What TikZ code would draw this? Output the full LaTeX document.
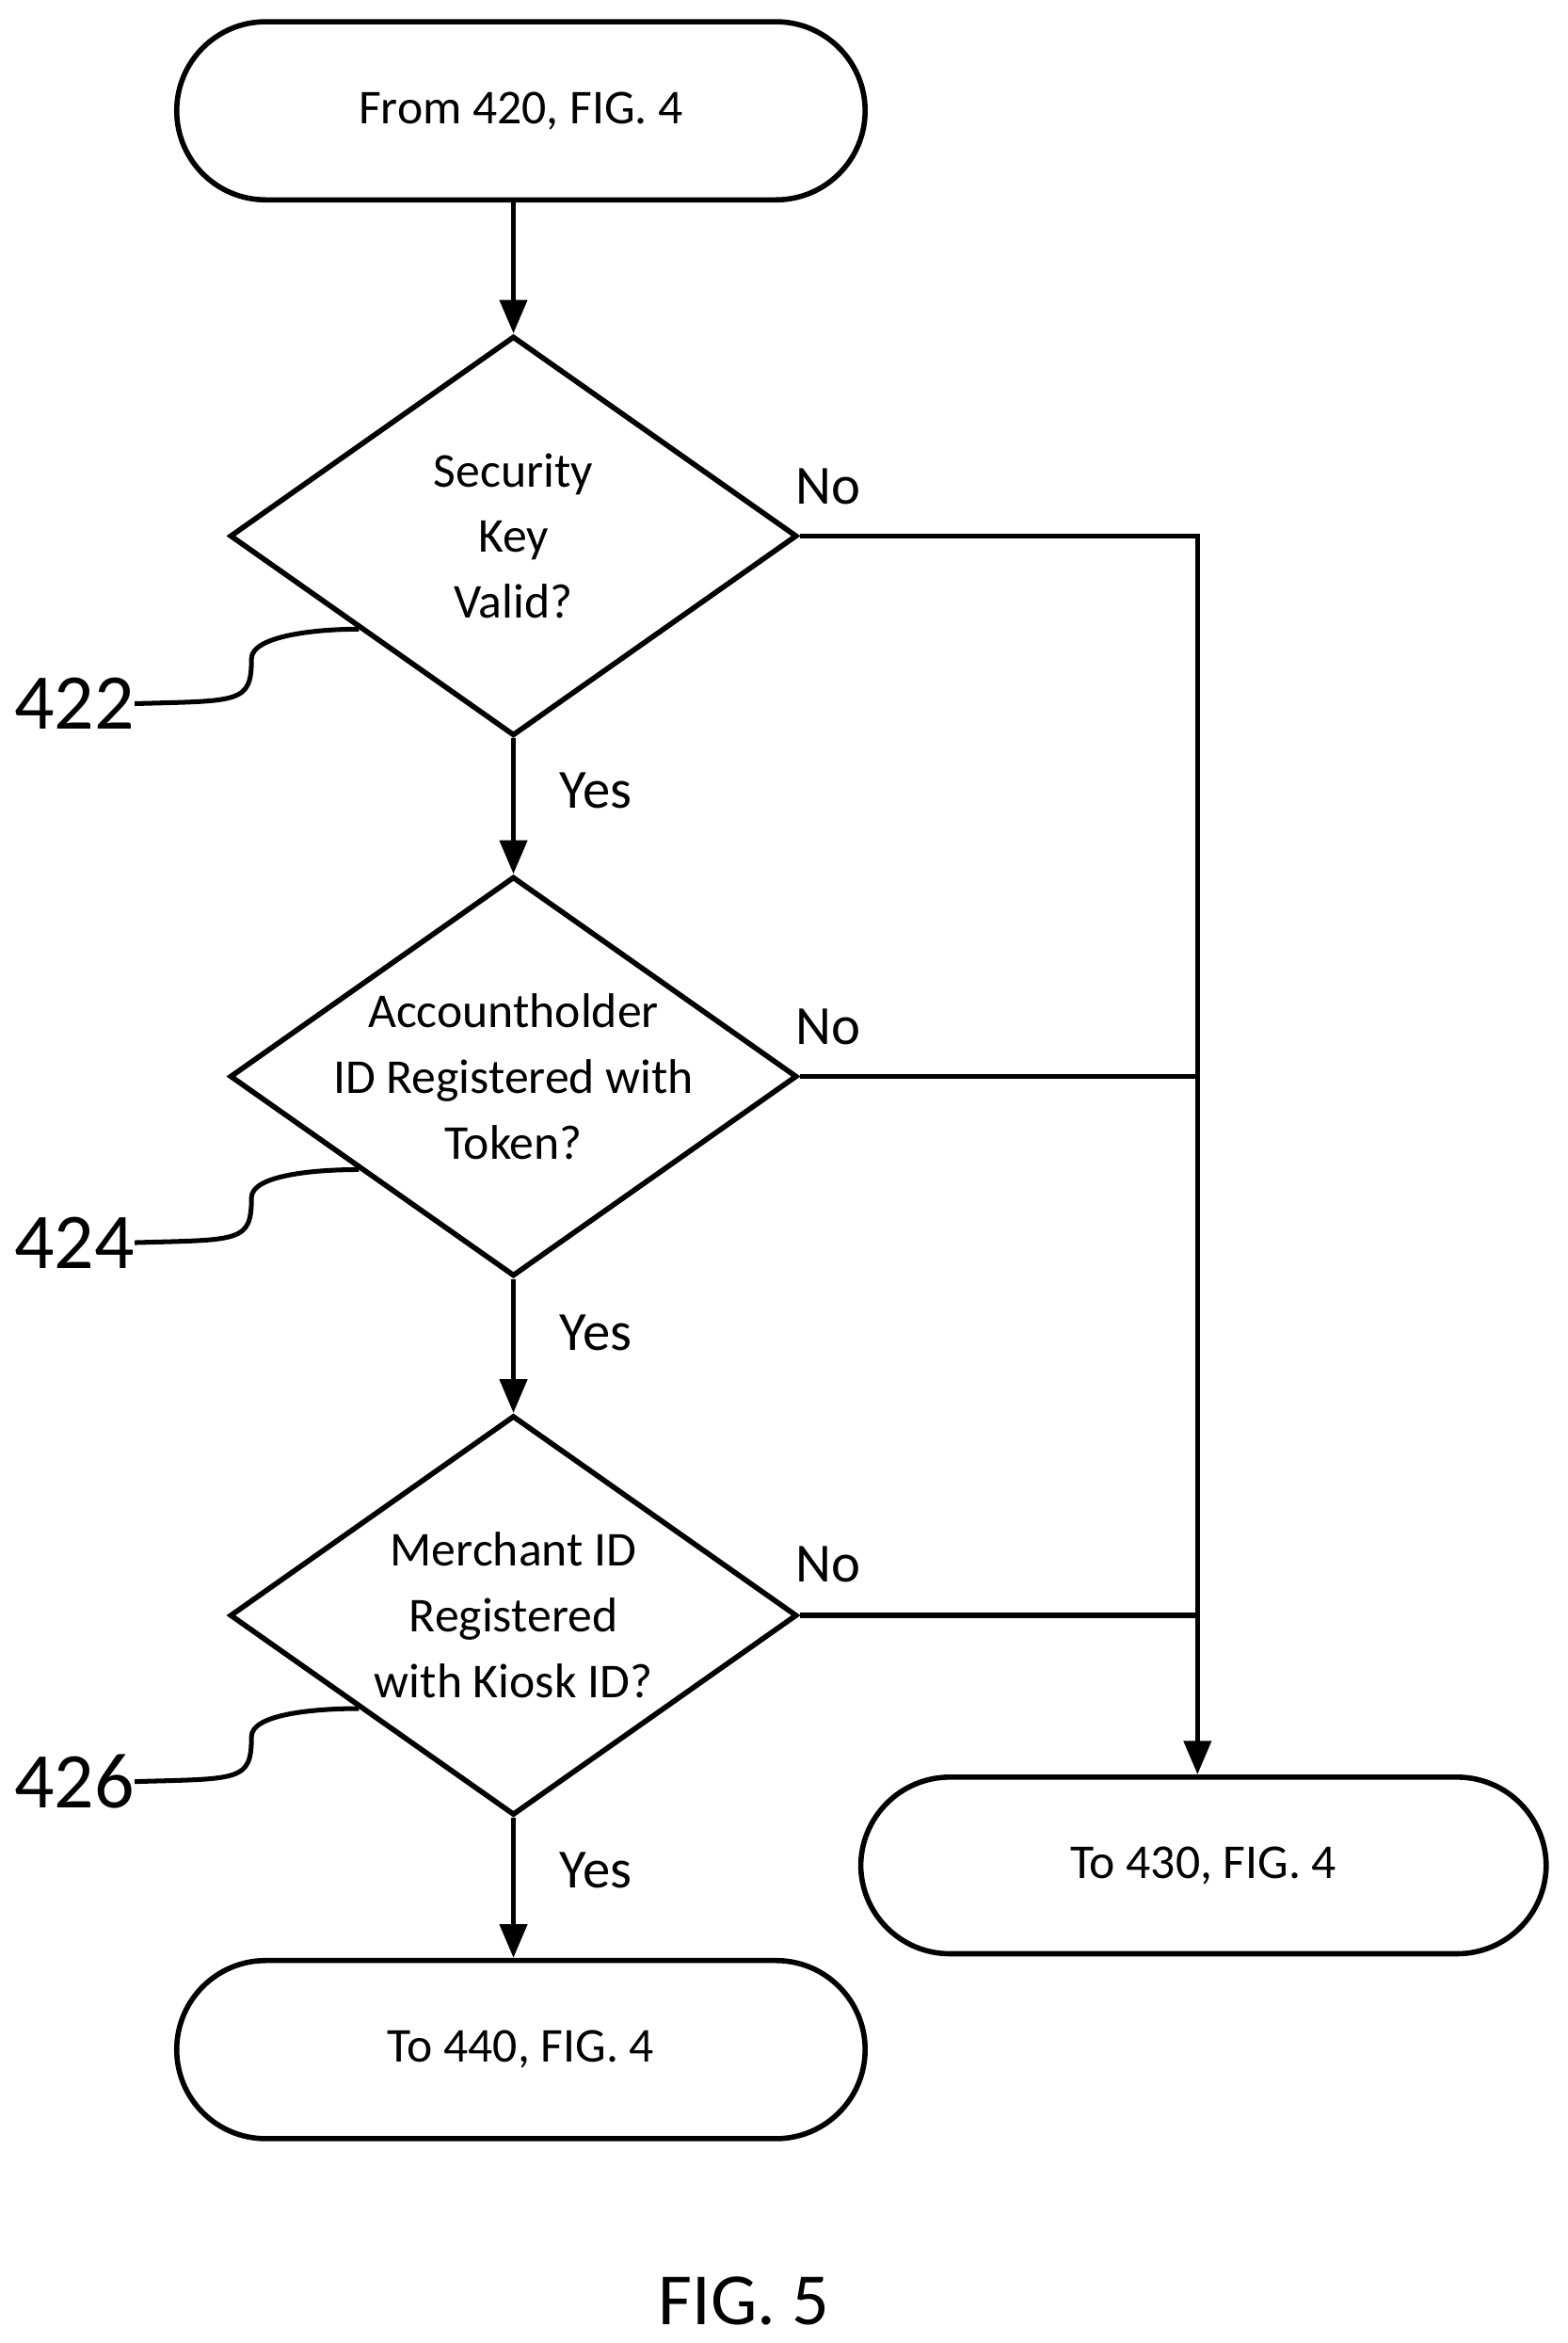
\documentclass[tikz,border=0pt]{standalone}
\usepackage{fontspec}
\setmainfont{Carlito}
\usetikzlibrary{shapes.geometric,arrows.meta,calc}
\tikzset{
  term/.style={draw,line width=2pt,rounded corners=1.19cm,minimum width=9.2cm,minimum height=2.38cm,font=\fontsize{18.5}{22}\selectfont},
  decision/.style={draw,diamond,line width=2pt,minimum width=7.58cm,minimum height=5.34cm,inner sep=-1.5cm,align=center,font=\fontsize{18.5}{25}\selectfont},
  flow/.style={line width=2pt,-{Triangle[length=0.45cm,width=0.36cm]}},
  lbl/.style={font=\fontsize{21}{24}\selectfont},
  ref/.style={font=\fontsize{30}{32}\selectfont,inner sep=0pt},
}
\begin{document}
\begin{tikzpicture}[x=0.02cm,y=-0.02cm]
  \useasboundingbox (0,0) rectangle (1047,1565);

  \node[term] (start) at (348,74) {From 420, FIG. 4};
  \node[decision] (d1) at (343,358) {Security\\Key\\Valid?};
  \node[decision] (d2) at (343,719) {Accountholder\\ID Registered with\\Token?};
  \node[decision] (d3) at (343,1079) {Merchant ID\\Registered\\with Kiosk ID?};
  \node[term] (t440) at (348,1369) {To 440, FIG. 4};
  \node[term,minimum width=9.16cm,minimum height=2.36cm] (t430) at (804,1246) {To 430, FIG. 4};

  % main path
  \draw[flow] (start.south -| d1.north) -- (d1.north);
  \draw[flow] (d1.south) -- (d2.north);
  \draw[flow] (d2.south) -- (d3.north);
  \draw[flow] (d3.south) -- (d3.south |- t440.north);

  % no branches
  \coordinate (bus) at (800,358);
  \draw[flow] (d1.east) -- (bus) -- (bus |- t430.north);
  \draw[line width=2pt] (d2.east) -- (d2.east -| bus);
  \draw[line width=2pt] (d3.east) -- (d3.east -| bus);

  \node[lbl] (no1) at (553,325) {No};
  \node[lbl] (no2) at (553,686) {No};
  \node[lbl] (no3) at (553,1045) {No};
  \node[lbl] (yes1) at (398,528) {Yes};
  \node[lbl] (yes2) at (398,890) {Yes};
  \node[lbl] (yes3) at (398,1249) {Yes};

  % reference numerals
  \foreach \d/\n/\y in {d1/422/470, d2/424/830, d3/426/1190} {
    \node[ref,anchor=east] (l\n) at (90,\y) {\n};
    \draw[line width=1.8pt] (l\n.east) .. controls ++(70,-2) and ++(0,30) .. ++(78,-30)
      .. controls ++(0,-15) and ++(-30,0) .. ($(\d.west)!0.46!(\d.south)$);
  }

  \node[font=\fontsize{28}{30}\selectfont] (fig) at (497,1537) {FIG. 5};
\end{tikzpicture}
\end{document}
